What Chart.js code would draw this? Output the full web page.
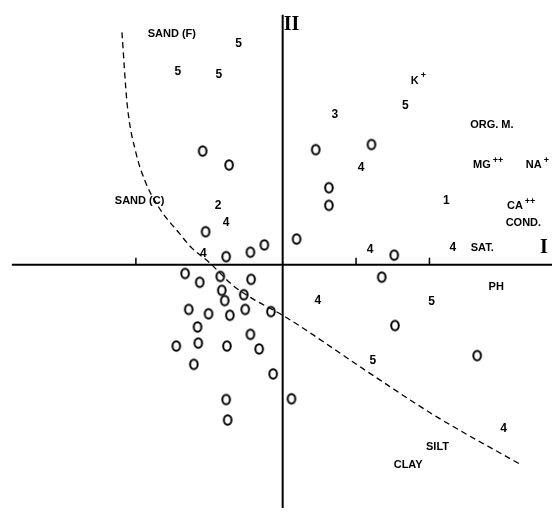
<!DOCTYPE html>
<html>
<head>
<meta charset="utf-8">
<script src="https://cdn.jsdelivr.net/npm/chart.js@4"></script>
<style>
html,body{margin:0;padding:0;background:#fff;}
#wrap{width:558px;height:514px;position:relative;}
</style>
</head>
<body>
<div id="wrap"><canvas id="c" width="558" height="514"></canvas></div>
<script>
// Site scores plotted as open circles (axis I, axis II)
const siteX = [-1.09,-0.73,-1.05,-0.77,-0.44,-0.25,0.45,1.21,0.63,0.63,0.19,1.52,
  -1.33,-1.13,-0.85,-0.43,-0.83,-0.53,-0.79,-1.28,-1.01,-0.72,-0.51,-0.16,
  -1.16,-0.44,-1.45,-1.15,-0.76,-0.32,-1.21,-0.13,-0.77,-0.75,1.35,1.53,2.65,0.12];
const siteY = [1.55,1.36,0.45,0.11,0.17,0.27,1.57,1.64,1.05,0.81,0.35,0.13,
  -0.12,-0.24,-0.16,-0.20,-0.35,-0.41,-0.49,-0.61,-0.67,-0.69,-0.61,-0.64,
  -0.85,-0.95,-1.11,-1.07,-1.11,-1.15,-1.36,-1.49,-1.84,-2.12,-0.17,-0.83,-1.24,-1.83];

// Numbered sites
const numLabels = ["5","5","5","2","4","4","3","5","4","1","4","4","4","5","5","4"];
const numX = [-0.60,-1.43,-0.87,-0.88,-0.77,-1.08,0.71,1.67,1.07,2.23,1.19,2.32,0.48,2.03,1.23,3.01];
const numY = [3.01,2.64,2.59,0.81,0.57,0.15,2.05,2.17,1.32,0.87,0.20,0.23,-0.49,-0.51,-1.31,-2.24];

// Environmental variables
const varNames = ["SAND (F)","SAND (C)","K","ORG. M.","MG","NA","CA","COND.","SAT.","PH","SILT","CLAY"];
const varSup   = ["","","+","","++","+","++","","","","",""];
const varX = [-1.51,-1.95,1.85,2.85,2.80,3.47,3.25,3.28,2.72,2.91,2.11,1.71];
const varY = [3.15,0.87,2.51,1.91,1.36,1.36,0.80,0.57,0.23,-0.31,-2.49,-2.73];

// Dashed boundary curve
const curveX = [-2.19,-2.12,-2.00,-1.87,-1.68,-1.41,-1.24,-1.00,-0.67,-0.40,0.00,1.20,2.09,3.23];
const curveY = [3.17,2.20,1.53,1.13,0.77,0.43,0.23,0.03,-0.29,-0.47,-0.69,-1.49,-2.07,-2.72];

// Axis tick positions and titles
const xTicks = [-2,1,2];
const axisTitles = ["I","II"];
const axisTitleX = [3.56,0.12];
const axisTitleY = [0.23,3.27];

const pts = (xs, ys) => xs.map((x,i)=>({x:x,y:ys[i]}));

// letter-"O"-like open ellipse marker
const oMark = document.createElement('canvas');
oMark.width = 12; oMark.height = 14;
(function(){
  const g = oMark.getContext('2d');
  g.strokeStyle = '#000'; g.lineWidth = 2;
  g.beginPath(); g.ellipse(6, 7, 3.8, 4.8, 0, 0, Math.PI*2); g.stroke();
})();

const overlay = {
  id:'overlay',
  afterDatasetsDraw(chart){
    const ctx = chart.ctx, xs = chart.scales.x, ys = chart.scales.y;
    ctx.save();
    ctx.fillStyle = '#000';
    ctx.strokeStyle = '#000';
    ctx.lineWidth = 1.5;
    xTicks.forEach(t=>{
      const px = xs.getPixelForValue(t), py = ys.getPixelForValue(0);
      ctx.beginPath(); ctx.moveTo(px, py); ctx.lineTo(px, py-7); ctx.stroke();
    });
    ctx.textAlign = 'center'; ctx.textBaseline = 'middle';
    ctx.font = 'bold 12px "Liberation Sans", Arial, sans-serif';
    numLabels.forEach((s,i)=>{
      ctx.fillText(s, xs.getPixelForValue(numX[i]), ys.getPixelForValue(numY[i]));
    });
    varNames.forEach((s,i)=>{
      const px = xs.getPixelForValue(varX[i]), py = ys.getPixelForValue(varY[i]);
      ctx.font = 'bold 11px "Liberation Sans", Arial, sans-serif';
      const w = ctx.measureText(s).width;
      let sw = 0;
      if (varSup[i]) { ctx.font = 'bold 9px "Liberation Sans", Arial, sans-serif'; sw = ctx.measureText(varSup[i]).width + 2; }
      const left = px - (w + sw)/2;
      ctx.textAlign = 'left';
      ctx.font = 'bold 11px "Liberation Sans", Arial, sans-serif';
      ctx.fillText(s, left, py);
      if (varSup[i]) {
        ctx.font = 'bold 9px "Liberation Sans", Arial, sans-serif';
        ctx.fillText(varSup[i], left + w + 2, py - 5);
      }
      ctx.textAlign = 'center';
    });
    ctx.font = 'bold 20px "Liberation Serif", "Times New Roman", serif';
    axisTitles.forEach((s,i)=>{
      ctx.fillText(s, xs.getPixelForValue(axisTitleX[i]), ys.getPixelForValue(axisTitleY[i]));
    });
    ctx.restore();
  }
};

new Chart(document.getElementById('c'), {
  type:'scatter',
  data:{
    datasets:[
      { type:'line', data:[{x:-3.69,y:0},{x:3.7,y:0}], borderColor:'#000', borderWidth:2,
        pointRadius:0, fill:false },
      { type:'line', data:[{x:0,y:3.41},{x:0,y:-3.4}], borderColor:'#000', borderWidth:2,
        pointRadius:0, fill:false },
      { type:'line', data:pts(curveX,curveY), borderColor:'#000', borderWidth:1.3,
        borderDash:[6,4], pointRadius:0, fill:false, cubicInterpolationMode:'monotone' },
      { data:pts(siteX,siteY), pointStyle:oMark, pointRadius:5 }
    ]
  },
  options:{
    responsive:false, animation:false,
    layout:{padding:0},
    plugins:{legend:{display:false}, tooltip:{enabled:false}},
    scales:{
      x:{type:'linear', min:-3.77, max:3.67, display:false},
      y:{type:'linear', min:-3.32, max:3.53, display:false}
    }
  },
  plugins:[overlay]
});
</script>
</body>
</html>
